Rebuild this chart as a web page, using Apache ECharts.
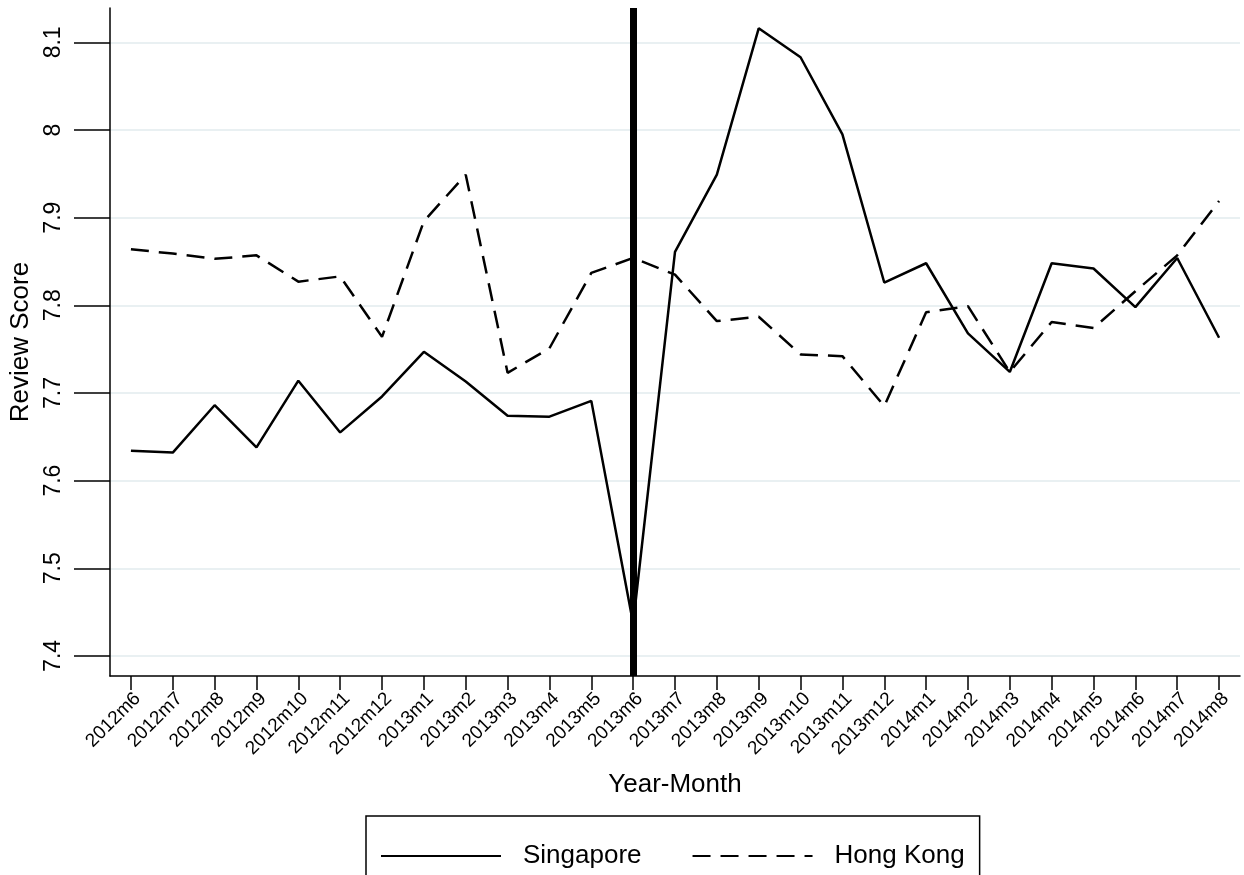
<!DOCTYPE html>
<html>
<head>
<meta charset="utf-8">
<title>Review Score by Year-Month</title>
<script src="https://cdn.jsdelivr.net/npm/echarts@6/dist/echarts.min.js"></script>
<style>
  html, body { margin: 0; padding: 0; background: #ffffff; }
  #chart { width: 1244px; height: 875px; }
</style>
</head>
<body>
<div id="chart"></div>
<script>
// Monthly categories, June 2012 to August 2014
const months = [
  '2012m6', '2012m7', '2012m8', '2012m9', '2012m10', '2012m11', '2012m12',
  '2013m1', '2013m2', '2013m3', '2013m4', '2013m5', '2013m6', '2013m7',
  '2013m8', '2013m9', '2013m10', '2013m11', '2013m12', '2014m1', '2014m2',
  '2014m3', '2014m4', '2014m5', '2014m6', '2014m7', '2014m8'
];

// Average review score per month
const singapore = [
  7.634, 7.632, 7.686, 7.638, 7.714, 7.655, 7.696,
  7.747, 7.713, 7.674, 7.673, 7.691, 7.437, 7.861,
  7.949, 8.116, 8.083, 7.995, 7.826, 7.848, 7.768,
  7.724, 7.848, 7.842, 7.798, 7.854, 7.763
];

const hongKong = [
  7.864, 7.859, 7.853, 7.857, 7.827, 7.833, 7.764,
  7.896, 7.949, 7.723, 7.751, 7.837, 7.854, 7.835,
  7.782, 7.787, 7.744, 7.742, 7.685, 7.792, 7.799,
  7.724, 7.781, 7.774, 7.816, 7.857, 7.919
];

// Y-axis tick values
const yTicks = [7.4, 7.5, 7.6, 7.7, 7.8, 7.9, 8.0, 8.1];

// Month marking the break
const breakMonth = '2013m6';

const FONT = '"Liberation Sans", Arial, Helvetica, sans-serif';

const chart = echarts.init(document.getElementById('chart'), null, { renderer: 'canvas' });

chart.setOption({
  animation: false,
  backgroundColor: '#ffffff',
  textStyle: { fontFamily: FONT, color: '#000' },
  grid: { left: 110, right: 4, top: 8, bottom: 199, containLabel: false },
  xAxis: {
    type: 'category',
    data: months,
    boundaryGap: true,
    name: 'Year-Month',
    nameLocation: 'middle',
    nameGap: 96,
    nameTextStyle: { fontFamily: FONT, fontSize: 26, color: '#000' },
    axisLine: { show: true, lineStyle: { color: '#000', width: 1.5 } },
    axisTick: { show: true, alignWithLabel: true, length: 14, lineStyle: { color: '#000', width: 1.5 } },
    axisLabel: {
      interval: 0, rotate: 45, margin: 13, verticalAlign: 'top',
      fontFamily: FONT, fontSize: 19, color: '#000'
    },
    splitLine: { show: false }
  },
  yAxis: {
    type: 'value',
    min: 7.3771,
    max: 8.1392,
    name: 'Review Score',
    nameLocation: 'middle',
    nameGap: 67,
    nameRotate: 90,
    nameTextStyle: { fontFamily: FONT, fontSize: 26, color: '#000' },
    axisLine: { show: true, lineStyle: { color: '#000', width: 1.5 } },
    axisTick: {
      show: true, length: 36, customValues: yTicks,
      lineStyle: { color: '#000', width: 1.5 }
    },
    axisLabel: {
      rotate: 90, margin: 45, customValues: yTicks,
      formatter: v => String(Math.round(v * 10) / 10),
      fontFamily: FONT, fontSize: 23, color: '#000'
    },
    splitLine: { show: true, lineStyle: { color: '#e9f0f2', width: 2 } }
  },
  legend: {
    left: 366,
    top: 816,
    orient: 'horizontal',
    backgroundColor: '#fff',
    borderColor: '#000',
    borderWidth: 1.5,
    borderRadius: 0,
    padding: [27, 15, 40, 14],
    itemWidth: 120,
    itemHeight: 26,
    itemGap: 50,
    itemStyle: { opacity: 0 },
    textStyle: { fontFamily: FONT, fontSize: 26, color: '#000', padding: [0, 0, 0, 17] },
    data: ['Singapore', 'Hong Kong']
  },
  series: [
    {
      name: 'Singapore',
      type: 'line',
      data: singapore,
      symbol: 'none',
      lineStyle: { color: '#000', width: 2.5, type: 'solid' },
      itemStyle: { color: '#000' },
      z: 3,
      markLine: {
        silent: true,
        symbol: ['none', 'none'],
        label: { show: false },
        lineStyle: { color: '#000', width: 7, type: 'solid' },
        data: [{ xAxis: breakMonth }],
        z: 5
      }
    },
    {
      name: 'Hong Kong',
      type: 'line',
      data: hongKong,
      symbol: 'none',
      lineStyle: { color: '#000', width: 2.5, type: [18, 10] },
      itemStyle: { color: '#000' },
      z: 3
    }
  ]
});
</script>
</body>
</html>
